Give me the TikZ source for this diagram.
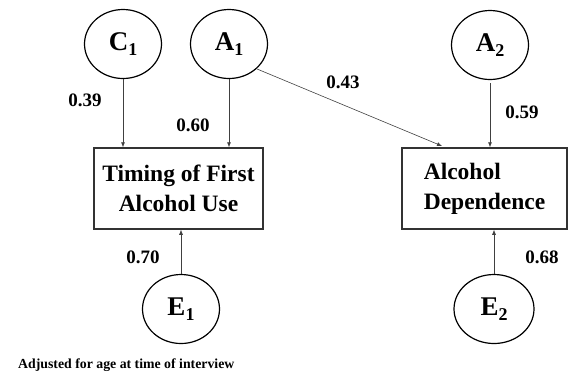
\documentclass[tikz,border=0pt]{standalone}
\usepackage{fontspec}
\setmainfont{Liberation Serif}
\usepackage{tikz}
\usetikzlibrary{arrows.meta, shapes.geometric}
\newcommand{\lowsub}[1]{\raisebox{-0.45ex}{\fontsize{18}{18}\selectfont #1}}

\begin{document}
\begin{tikzpicture}[x=1pt,y=-1pt,
  latent/.style={ellipse, draw=black, line width=1.2pt, inner sep=0pt,
    minimum width=77pt, minimum height=69pt,
    font=\fontsize{27}{28}\selectfont\bfseries},
  observed/.style={rectangle, draw=black!80, line width=1.5pt,
    minimum height=81pt, font=\fontsize{23.5}{30}\selectfont\bfseries},
  effect/.style={draw=black!75, line width=0.6pt,
    -{Latex[length=5pt,width=4pt]}},
  coef/.style={font=\fontsize{19}{22}\selectfont\bfseries}]
\useasboundingbox (0,0) rectangle (569,376);
% Latent factors
\node[latent] (C1) at (123,44) {C\lowsub{1}};
\node[latent] (A1) at (229,44) {A\lowsub{1}};
\node[latent] (A2) at (490,45) {A\lowsub{2}};
\node[latent] (E1) at (181,309) {E\lowsub{1}};
\node[latent, minimum width=80pt] (E2) at (494,309) {E\lowsub{2}};
% Observed measures
\node[observed, minimum width=169pt, align=center] (tim) at (178.5,188.5)
  {Timing of First\\Alcohol Use};
\node[observed, minimum width=165pt, align=left] (dep) at (484.5,188.5)
  {Alcohol\\Dependence};
% Paths
\draw[effect] (C1.south) -- (C1.south |- tim.north);
\draw[effect] (A1.south) -- (A1.south |- tim.north);
\draw[effect, shorten <=3pt] (A2.south) -- (A2.south |- dep.north);
\draw[effect] (E1.north) -- (E1.north |- tim.south);
\draw[effect] (E2.north) -- (E2.north |- dep.south);
\coordinate (dt) at (442,146);
\draw[effect] (A1.south east) -- (dt);
% Path coefficients
\node[coef] (k39) at (85,100) {0.39};
\node[coef] (k60) at (193,125) {0.60};
\node[coef] (k43) at (343,82) {0.43};
\node[coef] (k59) at (522,112) {0.59};
\node[coef] (k70) at (143,257) {0.70};
\node[coef] (k68) at (542,257) {0.68};
% Note
\node[anchor=west, inner sep=0pt, font=\fontsize{13.8}{15}\selectfont\bfseries]
  (note) at (18,365) {Adjusted for age at time of interview};
\end{tikzpicture}
\end{document}
